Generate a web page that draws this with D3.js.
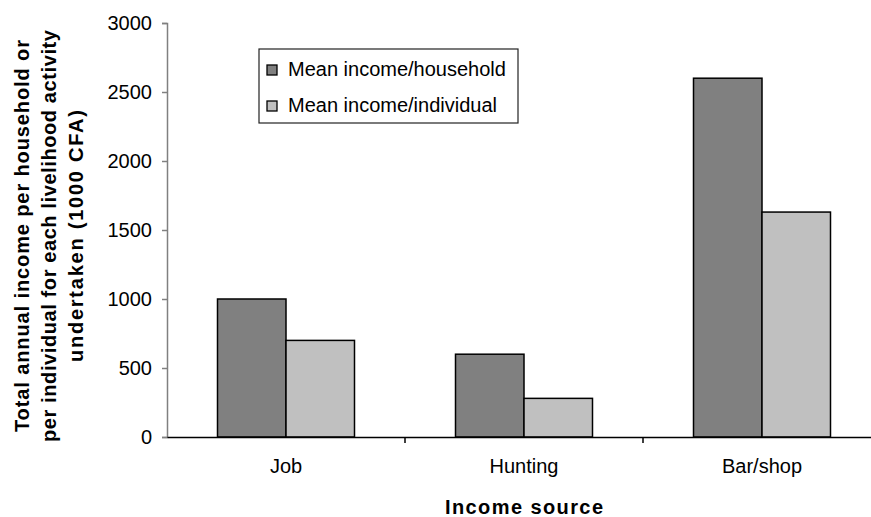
<!DOCTYPE html>
<html><head><meta charset="utf-8">
<script src="https://cdn.jsdelivr.net/npm/d3@7"></script>
<style>body{margin:0;background:#fff}svg{display:block}text{font-family:"Liberation Sans",Arial,sans-serif}</style>
</head><body>
<svg id="c" width="871" height="517"></svg>
<script>
const categories = ["Job", "Hunting", "Bar/shop"];
const seriesNames = ["Mean income/household", "Mean income/individual"];
const household = [1000, 600, 2600];
const individual = [700, 280, 1630];
const yTicks = [0, 500, 1000, 1500, 2000, 2500, 3000];
const colors = ["#808080", "#c0c0c0"];

const FF = '"Liberation Sans",Arial,sans-serif';
const svg = d3.select("#c");
const x0 = 167, x1 = 881, yTop = 23, yBot = 437;
const x = d3.scaleBand().domain(categories).range([x0, x1]).padding(0);
const y = d3.scaleLinear().domain([0, 3000]).range([yBot, yTop]);
const bw = x.bandwidth();
const xs = d3.scaleBand().domain([0, 1]).range([bw * 0.2122, bw * 0.7878]).padding(0);

const data = categories.map((c, i) => ({c, v: [household[i], individual[i]]}));
const g = svg.append("g");
data.forEach(d => {
  d.v.forEach((v, j) => {
    g.append("rect")
      .attr("x", x(d.c) + xs(j))
      .attr("y", y(v))
      .attr("width", xs.bandwidth())
      .attr("height", y(0) - y(v))
      .attr("fill", colors[j])
      .attr("stroke", "#000")
      .attr("stroke-width", 1.5);
  });
});

// y axis
const ya = svg.append("g").attr("transform", `translate(${x0},0)`)
  .call(d3.axisLeft(y).tickValues(yTicks).tickFormat(d3.format("d")).tickSize(5).tickPadding(10));
ya.attr("font-size", 20).attr("font-family", FF);
ya.select(".domain").attr("stroke", "#808080").attr("stroke-width", 1.5);
ya.selectAll(".tick line").attr("stroke", "#808080").attr("stroke-width", 1.5);
ya.selectAll("text").attr("fill", "#000");

// x axis
const xa = svg.append("g").attr("transform", `translate(0,${yBot})`)
  .call(d3.axisBottom(x).tickSize(0).tickPadding(22));
xa.attr("font-size", 20).attr("font-family", FF);
xa.select(".domain").attr("stroke", "#000").attr("stroke-width", 1.5);
xa.selectAll("text").attr("fill", "#000");
categories.forEach((c, i) => {
  if (i > 0) svg.append("line").attr("x1", x(c)).attr("x2", x(c)).attr("y1", yBot).attr("y2", yBot + 6).attr("stroke", "#000").attr("stroke-width", 1.5);
});

// x title
svg.append("text").attr("x", 524).attr("y", 514).attr("text-anchor", "middle")
  .attr("font-size", 20).attr("font-weight", "bold")
  .attr("textLength", 158).attr("lengthAdjust", "spacing").text("Income source");

// y title
const yt = ["Total annual income per household or", "per individual for each livelihood activity", "undertaken (1000 CFA)"];
const ytLen = [392, 412, 252];
const ytg = svg.append("g").attr("transform", "translate(0,236) rotate(-90)");
yt.forEach((t, i) => {
  ytg.append("text").attr("x", 0).attr("y", 29 + i * 27).attr("text-anchor", "middle")
    .attr("font-size", 20).attr("font-weight", "bold")
    .attr("textLength", ytLen[i]).attr("lengthAdjust", "spacing").text(t);
});

// legend
const lg = svg.append("g");
lg.append("rect").attr("x", 259).attr("y", 49).attr("width", 259).attr("height", 74)
  .attr("fill", "#fff").attr("stroke", "#222").attr("stroke-width", 1.2);
seriesNames.forEach((s, i) => {
  const cy = 70 + i * 36;
  lg.append("rect").attr("x", 267).attr("y", cy - 5).attr("width", 10).attr("height", 10)
    .attr("fill", colors[i]).attr("stroke", "#000").attr("stroke-width", 1.3);
  lg.append("text").attr("x", 288).attr("y", cy + 6).attr("font-size", 20).text(s);
});
</script>
</body></html>
